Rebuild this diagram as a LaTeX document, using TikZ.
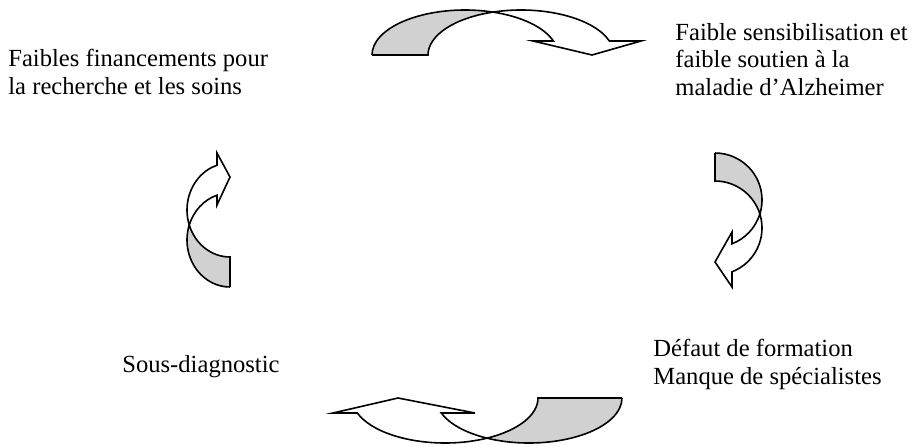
\documentclass[tikz,border=0pt]{standalone}
\usepackage{fontspec}
\setmainfont{Liberation Serif}
\tikzset{ribbonback/.style={draw,line width=0.8pt,fill=black!18,line join=miter},
  ribbonfront/.style={draw,line width=0.8pt,fill=white,line join=miter},
  cause/.style={anchor=base west,inner sep=0pt,align=left,font=\fontsize{12.3}{13.75}\selectfont}}
% curved block arrow: #1,#2 radii, #3 shift of inner edge, #4 head base, #5 #6 #7 barb, tip, barb
\newcommand{\cyclearrow}[7]{%
  \pgfmathsetmacro{\angcross}{acos(#3/(2*#1))}%
  \pgfmathsetmacro{\anghead}{asin(#4/#2)}%
  \draw[ribbonback] (-#1,0) -- ({#3-#1},0)
    arc[start angle=180,end angle={180-\angcross},x radius=#1,y radius=#2]
    arc[start angle=\angcross,end angle=180,x radius=#1,y radius=#2] -- cycle;
  \draw[ribbonfront] (\angcross:#1 and #2)
    arc[start angle={180-\angcross},end angle=\anghead,x radius=#1,y radius=#2]
    -- (#7,#4) -- (#6,0) -- (#5,#4) -- (\anghead:#1 and #2)
    arc[start angle=\anghead,end angle=\angcross,x radius=#1,y radius=#2] -- cycle;
}
\begin{document}
\begin{tikzpicture}[x=0.5pt,y=0.5pt]
\useasboundingbox (0,0) rectangle (915,446);
% labels (anchored at the baseline of their last line)
\node[cause] (finance) at (8,352) {Faibles financements pour\\la recherche et les soins};
\node[cause] (awareness) at (675,351) {Faible sensibilisation et\\faible soutien à la\\maladie d’Alzheimer};
\node[cause] (training) at (653,62) {Défaut de formation\\Manque de spécialistes};
\node[cause] (underdiag) at (122,74) {Sous-diagnostic};
% arrows of the cycle
\begin{scope}[shift={(465,391)}]
  \cyclearrow{93}{45}{56}{14}{68}{127}{176}
\end{scope}
\begin{scope}[shift={(715,246)},rotate=-90]
  \cyclearrow{47}{47}{28}{17}{32}{62}{87}
\end{scope}
\begin{scope}[shift={(529,48)},rotate=180]
  \cyclearrow{93}{45}{84}{15}{54}{131}{196}
\end{scope}
\begin{scope}[shift={(230,206)},rotate=90]
  \cyclearrow{47}{43}{30}{13}{35}{63}{87}
\end{scope}
\end{tikzpicture}
\end{document}
